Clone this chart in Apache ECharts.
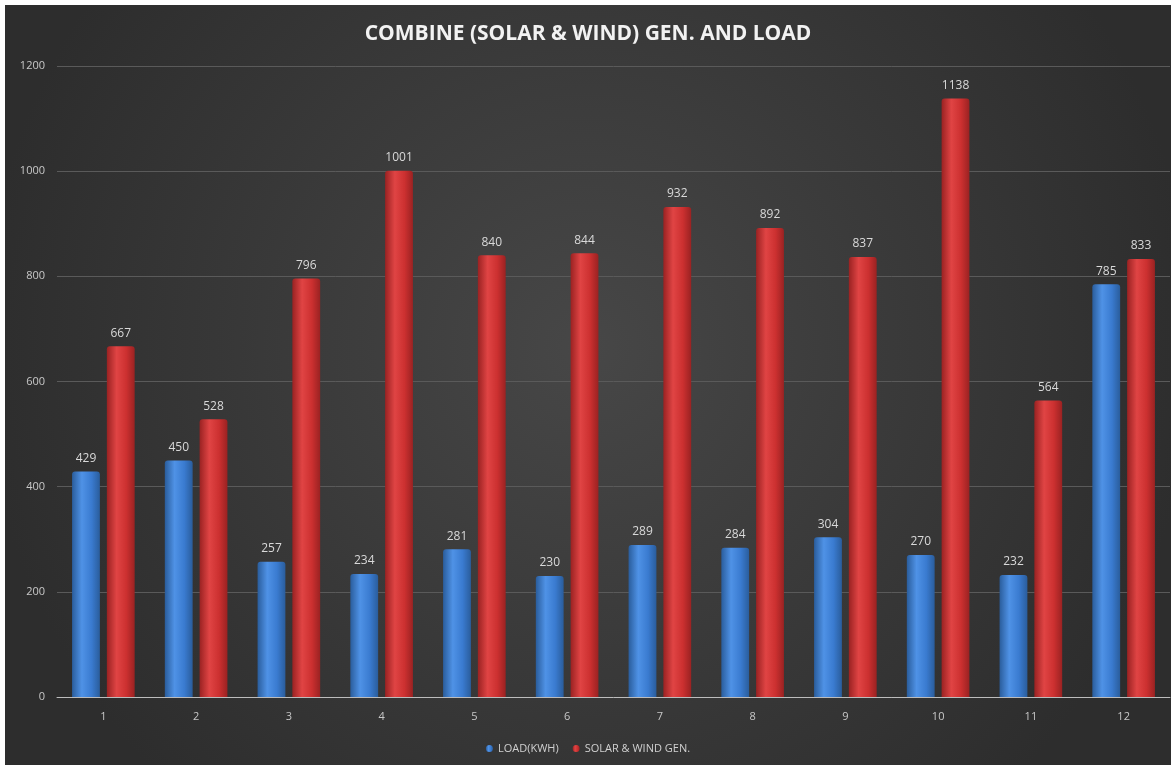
<!DOCTYPE html>
<html>
<head>
<meta charset="utf-8">
<script src="https://cdn.jsdelivr.net/npm/echarts@6/dist/echarts.min.js"></script>
<style>
  html, body { margin: 0; padding: 0; background: #fff; }
  #chart { position: absolute; left: 5px; top: 5px; width: 1166px; height: 760px; }
</style>
</head>
<body>
<div id="chart"></div>
<script>
var months = ['1', '2', '3', '4', '5', '6', '7', '8', '9', '10', '11', '12'];
var load = [429, 450, 257, 234, 281, 230, 289, 284, 304, 270, 232, 785];
var gen = [667, 528, 796, 1001, 840, 844, 932, 892, 837, 1138, 564, 833];

function barColor(dark, mid, light) {
    return new echarts.graphic.LinearGradient(0, 0, 1, 0, [
        { offset: 0, color: dark },
        { offset: 0.35, color: light },
        { offset: 0.7, color: mid },
        { offset: 1, color: dark }
    ]);
}

var chart = echarts.init(document.getElementById('chart'));

chart.setOption({
    backgroundColor: new echarts.graphic.RadialGradient(0.5, 0.45, 0.8, [
        { offset: 0, color: '#474747' },
        { offset: 1, color: '#2d2d2d' }
    ]),
    title: {
        text: 'COMBINE (SOLAR & WIND) GEN. AND LOAD',
        left: 'center',
        top: 14,
        textStyle: { color: '#f2f2f2', fontSize: 21, fontWeight: 'bold', fontFamily: 'Open Sans' }
    },
    legend: {
        bottom: 6,
        left: 'center',
        icon: 'circle',
        itemWidth: 7,
        itemHeight: 7,
        itemGap: 14,
        textStyle: { color: '#d0d0d0', fontSize: 11, fontFamily: 'Open Sans' },
        data: ['LOAD(KWH)', 'SOLAR & WIND GEN.']
    },
    grid: { left: 52, right: 1, top: 61, bottom: 68, containLabel: false },
    xAxis: {
        type: 'category',
        data: months,
        axisLine: { lineStyle: { color: '#bdbdbd', width: 1 } },
        axisTick: { show: false },
        axisLabel: { color: '#c8c8c8', fontSize: 11, margin: 14, fontFamily: 'Open Sans' }
    },
    yAxis: {
        type: 'value',
        min: 0,
        max: 1200,
        interval: 200,
        axisLine: { show: false },
        axisTick: { show: false },
        axisLabel: {
            color: '#c8c8c8', fontSize: 11, margin: 12, fontFamily: 'Open Sans',
            formatter: function (v) { return String(v); }
        },
        splitLine: { lineStyle: { color: '#5a5a5a', width: 1 } }
    },
    series: [
        {
            name: 'LOAD(KWH)',
            type: 'bar',
            data: load,
            barWidth: '30%',
            barGap: '25%',
            itemStyle: { color: barColor('#2a5d9c', '#3a7bd0', '#4f92e6'), borderRadius: [3, 3, 0, 0] },
            label: { show: true, position: 'top', distance: 7, color: '#d9d9d9', fontSize: 12, fontFamily: 'Open Sans' }
        },
        {
            name: 'SOLAR & WIND GEN.',
            type: 'bar',
            data: gen,
            barWidth: '30%',
            itemStyle: { color: barColor('#9a2222', '#cc3030', '#e04444'), borderRadius: [3, 3, 0, 0] },
            label: { show: true, position: 'top', distance: 7, color: '#d9d9d9', fontSize: 12, fontFamily: 'Open Sans' }
        }
    ]
});
</script>
</body>
</html>
